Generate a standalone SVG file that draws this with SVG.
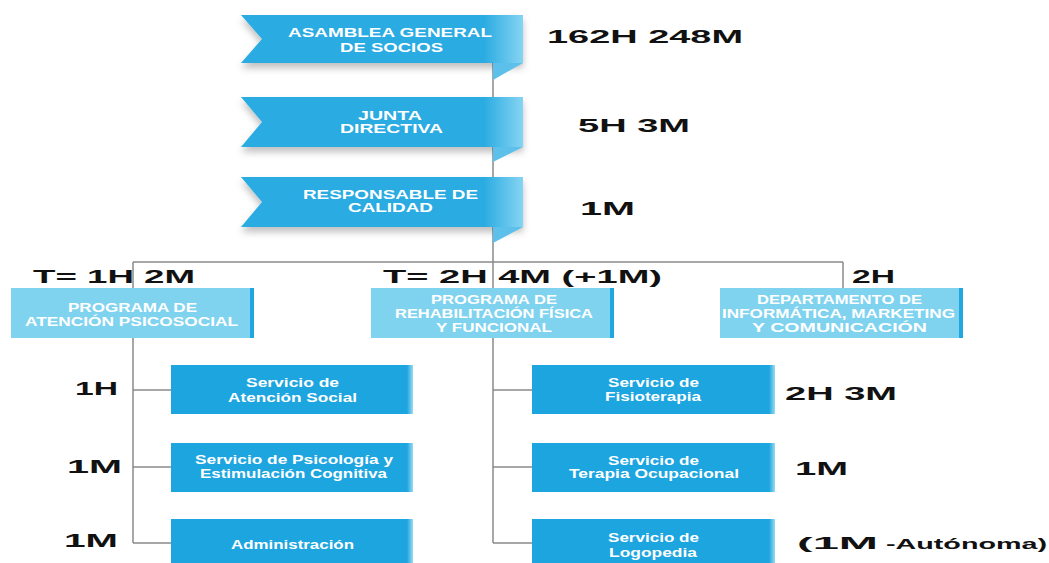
<svg xmlns="http://www.w3.org/2000/svg" width="1049" height="563" viewBox="0 0 1049 563">
<style>
.lbl{font-family:"Liberation Sans",Arial,sans-serif;font-weight:bold;fill:#111;font-size:18.5px}
.rt{font-family:"Liberation Sans",Arial,sans-serif;font-weight:bold;fill:#fff;font-size:12px}
.conn{stroke:#8a8a8a;stroke-width:1.5;fill:none}
.rib{fill:url(#ribG);filter:url(#sh)}
.fold{fill:#5cc0ea}
.l2{fill:#7fd3ef}
.l2s{fill:#1ea7e1}
.l3{fill:#1da5df}
.l3s{fill:url(#l3G)}
</style>
<defs>
<linearGradient id="ribG" x1="0" y1="0" x2="1" y2="0">
<stop offset="0" stop-color="#29abe2"/>
<stop offset="0.86" stop-color="#29abe2"/>
<stop offset="1" stop-color="#86d4f2"/>
</linearGradient>
<linearGradient id="l3G" x1="0" y1="0" x2="1" y2="0">
<stop offset="0" stop-color="#1da5df"/>
<stop offset="1" stop-color="#9adbf3"/>
</linearGradient>
<filter id="sh" x="-10%" y="-20%" width="120%" height="160%">
<feDropShadow dx="0" dy="5" stdDeviation="3.5" flood-color="#000" flood-opacity="0.25"/>
</filter>
</defs>
<rect width="1049" height="563" fill="#fff"/>
<g id="connectors">
<line class="conn" x1="493" y1="40" x2="493" y2="543"/>
<line class="conn" x1="133" y1="262" x2="843" y2="262"/>
<line class="conn" x1="133" y1="262" x2="133" y2="543"/>
<line class="conn" x1="843" y1="262" x2="843" y2="288"/>
<line class="conn" x1="133" y1="390" x2="171" y2="390"/>
<line class="conn" x1="133" y1="467" x2="171" y2="467"/>
<line class="conn" x1="133" y1="543" x2="171" y2="543"/>
<line class="conn" x1="493" y1="390" x2="532" y2="390"/>
<line class="conn" x1="493" y1="467" x2="532" y2="467"/>
<line class="conn" x1="493" y1="543" x2="532" y2="543"/>
</g>
<g id="asamblea">
<polygon class="rib" points="241,15 523,15 523,63 241,63 262,39"/>
<polygon class="fold" points="493,63 523,63 493,80"/>
<text class="rt" x="288" y="37" textLength="204" lengthAdjust="spacingAndGlyphs">ASAMBLEA GENERAL</text>
<text class="rt" x="340" y="51.5" textLength="103" lengthAdjust="spacingAndGlyphs">DE SOCIOS</text>
</g>
<g id="junta">
<polygon class="rib" points="241,97 523,97 523,147 241,147 262,122"/>
<polygon class="fold" points="493,147 523,147 493,162"/>
<text class="rt" x="358" y="119.5" textLength="64" lengthAdjust="spacingAndGlyphs">JUNTA</text>
<text class="rt" x="340" y="133" textLength="103" lengthAdjust="spacingAndGlyphs">DIRECTIVA</text>
</g>
<g id="calidad">
<polygon class="rib" points="241,177 523,177 523,227 241,227 262,202"/>
<polygon class="fold" points="493,227 523,227 493,243"/>
<text class="rt" x="303" y="198.5" textLength="175" lengthAdjust="spacingAndGlyphs">RESPONSABLE DE</text>
<text class="rt" x="348" y="212" textLength="85" lengthAdjust="spacingAndGlyphs">CALIDAD</text>
</g>
<g id="programa-psicosocial">
<rect class="l2" x="11" y="288" width="243" height="50"/>
<rect class="l2s" x="250" y="288" width="4" height="50"/>
<text class="rt" x="68" y="311.5" textLength="129" lengthAdjust="spacingAndGlyphs">PROGRAMA DE</text>
<text class="rt" x="25" y="326" textLength="213" lengthAdjust="spacingAndGlyphs">ATENCIÓN PSICOSOCIAL</text>
</g>
<g id="programa-rehabilitacion">
<rect class="l2" x="371" y="288" width="243" height="50"/>
<rect class="l2s" x="610" y="288" width="4" height="50"/>
<text class="rt" x="431" y="304" textLength="126" lengthAdjust="spacingAndGlyphs">PROGRAMA DE</text>
<text class="rt" x="395" y="318" textLength="198" lengthAdjust="spacingAndGlyphs">REHABILITACIÓN FÍSICA</text>
<text class="rt" x="436" y="331.5" textLength="116" lengthAdjust="spacingAndGlyphs">Y FUNCIONAL</text>
</g>
<g id="departamento">
<rect class="l2" x="720" y="288" width="243" height="50"/>
<rect class="l2s" x="959" y="288" width="4" height="50"/>
<text class="rt" x="757" y="304" textLength="165" lengthAdjust="spacingAndGlyphs">DEPARTAMENTO DE</text>
<text class="rt" x="722" y="318" textLength="233" lengthAdjust="spacingAndGlyphs">INFORMÁTICA, MARKETING</text>
<text class="rt" x="752" y="331.5" textLength="175" lengthAdjust="spacingAndGlyphs">Y COMUNICACIÓN</text>
</g>
<g id="atencion-social">
<rect class="l3" x="171" y="365" width="242" height="49"/>
<rect class="l3s" x="407" y="365" width="6" height="49"/>
<text class="rt" x="246" y="387" textLength="93" lengthAdjust="spacingAndGlyphs">Servicio de</text>
<text class="rt" x="228" y="401.5" textLength="129" lengthAdjust="spacingAndGlyphs">Atención Social</text>
</g>
<g id="psicologia">
<rect class="l3" x="171" y="443" width="242" height="49"/>
<rect class="l3s" x="407" y="443" width="6" height="49"/>
<text class="rt" x="195" y="464" textLength="198" lengthAdjust="spacingAndGlyphs">Servicio de Psicología y</text>
<text class="rt" x="200" y="477.7" textLength="187" lengthAdjust="spacingAndGlyphs">Estimulación Cognitiva</text>
</g>
<g id="administracion">
<rect class="l3" x="171" y="519" width="242" height="49"/>
<rect class="l3s" x="407" y="519" width="6" height="49"/>
<text class="rt" x="231" y="549" textLength="123" lengthAdjust="spacingAndGlyphs">Administración</text>
</g>
<g id="fisioterapia">
<rect class="l3" x="532" y="365" width="243" height="49"/>
<rect class="l3s" x="769" y="365" width="6" height="49"/>
<text class="rt" x="608" y="387" textLength="91" lengthAdjust="spacingAndGlyphs">Servicio de</text>
<text class="rt" x="605" y="400.5" textLength="96" lengthAdjust="spacingAndGlyphs">Fisioterapia</text>
</g>
<g id="terapia-ocupacional">
<rect class="l3" x="532" y="443" width="243" height="49"/>
<rect class="l3s" x="769" y="443" width="6" height="49"/>
<text class="rt" x="608" y="465" textLength="91" lengthAdjust="spacingAndGlyphs">Servicio de</text>
<text class="rt" x="569" y="477.7" textLength="170" lengthAdjust="spacingAndGlyphs">Terapia Ocupacional</text>
</g>
<g id="logopedia">
<rect class="l3" x="532" y="519" width="243" height="49"/>
<rect class="l3s" x="769" y="519" width="6" height="49"/>
<text class="rt" x="608" y="542" textLength="91" lengthAdjust="spacingAndGlyphs">Servicio de</text>
<text class="rt" x="609" y="556.5" textLength="88" lengthAdjust="spacingAndGlyphs">Logopedia</text>
</g>
<g id="labels">
<text class="lbl" x="547" y="43" textLength="196" lengthAdjust="spacingAndGlyphs">162H 248M</text>
<text class="lbl" x="578" y="132" textLength="112" lengthAdjust="spacingAndGlyphs">5H 3M</text>
<text class="lbl" x="580" y="215" textLength="55" lengthAdjust="spacingAndGlyphs">1M</text>
<text class="lbl" x="33" y="283" textLength="162" lengthAdjust="spacingAndGlyphs">T= 1H 2M</text>
<text class="lbl" x="383" y="283" textLength="279" lengthAdjust="spacingAndGlyphs">T= 2H 4M (+1M)</text>
<text class="lbl" x="852" y="283" textLength="43" lengthAdjust="spacingAndGlyphs">2H</text>
<text class="lbl" x="75" y="395" textLength="43" lengthAdjust="spacingAndGlyphs">1H</text>
<text class="lbl" x="67" y="473" textLength="55" lengthAdjust="spacingAndGlyphs">1M</text>
<text class="lbl" x="64" y="547" textLength="54" lengthAdjust="spacingAndGlyphs">1M</text>
<text class="lbl" x="785" y="400" font-size="20" textLength="112" lengthAdjust="spacingAndGlyphs">2H 3M</text>
<text class="lbl" x="795" y="475" font-size="20" textLength="53" lengthAdjust="spacingAndGlyphs">1M</text>
<text class="lbl" y="549"><tspan x="797" font-size="17" textLength="81" lengthAdjust="spacingAndGlyphs">(1M</tspan><tspan x="886" font-size="15" textLength="161" lengthAdjust="spacingAndGlyphs">-Autónoma)</tspan></text>
</g>
</svg>
